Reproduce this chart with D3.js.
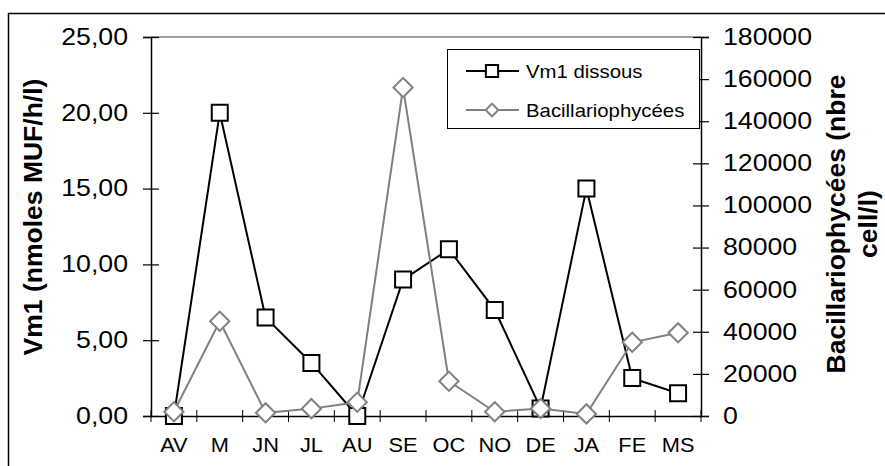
<!DOCTYPE html>
<html lang="fr">
<head>
  <meta charset="UTF-8">
  <title>Vm1 / Bacillariophycées</title>
  <style>
    body{ margin: 0; background: #fff; }
    svg{ display: block; font-family: "Liberation Sans", Arial, sans-serif; }
  </style>
</head>
<body>
<svg width="885" height="466"></svg>

<script src="https://cdn.jsdelivr.net/npm/d3@7/dist/d3.min.js"></script>
<script>
  // données
  var mois = ['AV', 'M', 'JN', 'JL', 'AU', 'SE', 'OC', 'NO', 'DE', 'JA', 'FE', 'MS'];
  var vm1 = [0, 20, 6.5, 3.5, 0, 9, 11, 7, 0.5, 15, 2.5, 1.5];
  var bacillario = [2000, 45000, 1500, 3500, 6500, 156000, 16500, 2000, 3600, 1000, 35000, 39500];
  var ticksGauche = [0, 5, 10, 15, 20, 25];
  var ticksDroite = [0, 20000, 40000, 60000, 80000, 100000, 120000, 140000, 160000, 180000];

  var svg = d3.select('svg');
  var plot = {left: 151, right: 701, top: 37, bottom: 416};
  var gris = '#808080';

  // étirement horizontal du texte (image d'origine un peu élargie)
  function etirer(sel, k) {
    sel.each(function () {
      var l = this.getComputedTextLength();
      d3.select(this).attr('textLength', l * k).attr('lengthAdjust', 'spacingAndGlyphs');
    });
  }

  // cadre extérieur
  svg.append('rect').attr('x', 8.5).attr('y', 13.5).attr('width', 900).attr('height', 500)
    .attr('fill', 'none').attr('stroke', '#000').attr('stroke-width', 1.5);

  var x = d3.scaleBand().domain(mois).range([plot.left, plot.right]);
  var yG = d3.scaleLinear().domain([0, 25]).range([plot.bottom, plot.top]);
  var yD = d3.scaleLinear().domain([0, 180000]).range([plot.bottom, plot.top]);

  // bord haut de la zone de traçage
  svg.append('line').attr('x1', plot.left).attr('x2', plot.right)
    .attr('y1', plot.top).attr('y2', plot.top).attr('stroke', gris).attr('stroke-width', 1.5);

  // axe gauche
  var gG = svg.append('g').attr('transform', `translate(${plot.left},0)`)
    .call(d3.axisLeft(yG).tickValues(ticksGauche).tickSizeOuter(0).tickSize(8).tickPadding(15)
      .tickFormat(function (d) { return d.toFixed(2).replace('.', ','); }));
  gG.selectAll('.tick line').attr('x1', -8).attr('x2', 8);
  gG.selectAll('.tick text').attr('font-size', 23).attr('font-family', '"Liberation Sans", Arial, sans-serif').attr('fill', '#000');
  etirer(gG.selectAll('.tick text'), 1.16);

  // axe droit
  var gD = svg.append('g').attr('transform', `translate(${plot.right},0)`)
    .call(d3.axisRight(yD).tickValues(ticksDroite).tickSizeOuter(0).tickSize(8).tickPadding(14)
      .tickFormat(d3.format('d')));
  gD.selectAll('.tick line').attr('x1', -8).attr('x2', 8);
  gD.selectAll('.tick text').attr('font-size', 23).attr('font-family', '"Liberation Sans", Arial, sans-serif').attr('fill', '#000');
  etirer(gD.selectAll('.tick text'), 1.16);

  // axe du bas : étiquettes au centre, graduations entre les mois
  var gX = svg.append('g').attr('transform', `translate(0,${plot.bottom})`)
    .call(d3.axisBottom(x).tickSize(0).tickPadding(22));
  gX.selectAll('.tick text').attr('font-size', 20).attr('font-family', '"Liberation Sans", Arial, sans-serif').attr('fill', '#000');
  etirer(gX.selectAll('.tick text'), 1.09);
  var bornes = mois.map(function (m) { return x(m); }).concat([x.range()[1]]);
  gX.selectAll('.borne').data(bornes).enter().append('line')
    .attr('x1', function (d) { return d; }).attr('x2', function (d) { return d; })
    .attr('y1', -6).attr('y2', 6).attr('stroke', '#000');

  svg.selectAll('.domain').attr('stroke', '#000').attr('stroke-width', 1.5);
  svg.selectAll('.tick line').attr('stroke', '#000').attr('stroke-width', 1.2);

  // titres des axes
  svg.append('text').attr('transform', 'translate(42,217) rotate(-90)')
    .attr('text-anchor', 'middle').attr('font-weight', 'bold').attr('font-size', 26.5)
    .text('Vm1 (nmoles MUF/h/l)');
  svg.append('text').attr('transform', 'translate(845,224) rotate(-90)')
    .attr('text-anchor', 'middle').attr('font-weight', 'bold').attr('font-size', 26.5)
    .text('Bacillariophycées (nbre');
  svg.append('text').attr('transform', 'translate(877,224) rotate(-90)')
    .attr('text-anchor', 'middle').attr('font-weight', 'bold').attr('font-size', 26.5)
    .text('cell/l)');

  var cx = function (d, i) { return x(mois[i]) + x.bandwidth() / 2; };
  var carre = d3.symbol().type(d3.symbolSquare).size(256);
  var losange = d3.symbol().type(d3.symbolSquare).size(185);

  // série Vm1 dissous
  svg.append('path').datum(vm1)
    .attr('d', d3.line().x(cx).y(function (d) { return yG(d); }))
    .attr('fill', 'none').attr('stroke', '#000').attr('stroke-width', 2);
  svg.selectAll('.pt-vm1').data(vm1).enter().append('path')
    .attr('d', carre)
    .attr('transform', function (d, i) { return `translate(${cx(d, i)},${yG(d)})`; })
    .attr('fill', '#fff').attr('stroke', '#000').attr('stroke-width', 2);

  // série Bacillariophycées
  svg.append('path').datum(bacillario)
    .attr('d', d3.line().x(cx).y(function (d) { return yD(d); }))
    .attr('fill', 'none').attr('stroke', gris).attr('stroke-width', 2);
  svg.selectAll('.pt-bac').data(bacillario).enter().append('path')
    .attr('d', losange)
    .attr('transform', function (d, i) { return `translate(${cx(d, i)},${yD(d)}) rotate(45)`; })
    .attr('fill', '#fff').attr('stroke', gris).attr('stroke-width', 2);

  // légende
  var leg = svg.append('g');
  leg.append('rect').attr('x', 447.5).attr('y', 49.5).attr('width', 252).attr('height', 79)
    .attr('fill', '#fff').attr('stroke', '#000').attr('stroke-width', 1);
  var lignes = [
    {nom: 'Vm1 dissous', couleur: '#000', y: 71, symb: d3.symbol().type(d3.symbolSquare).size(150), rot: 0},
    {nom: 'Bacillariophycées', couleur: gris, y: 110, symb: d3.symbol().type(d3.symbolSquare).size(80), rot: 45}
  ];
  var lg = leg.selectAll('.item').data(lignes).enter().append('g');
  lg.append('line').attr('x1', 466).attr('x2', 519)
    .attr('y1', function (d) { return d.y; }).attr('y2', function (d) { return d.y; })
    .attr('stroke', function (d) { return d.couleur; }).attr('stroke-width', 2);
  lg.append('path').attr('d', function (d) { return d.symb(); })
    .attr('transform', function (d) { return `translate(492,${d.y}) rotate(${d.rot})`; })
    .attr('fill', '#fff').attr('stroke', function (d) { return d.couleur; }).attr('stroke-width', 2);
  var lt = lg.append('text').attr('x', 526).attr('y', function (d) { return d.y + 6.5; })
    .attr('font-size', 18.5).text(function (d) { return d.nom; });
  etirer(lt, 1.1);
</script>
</body>
</html>
